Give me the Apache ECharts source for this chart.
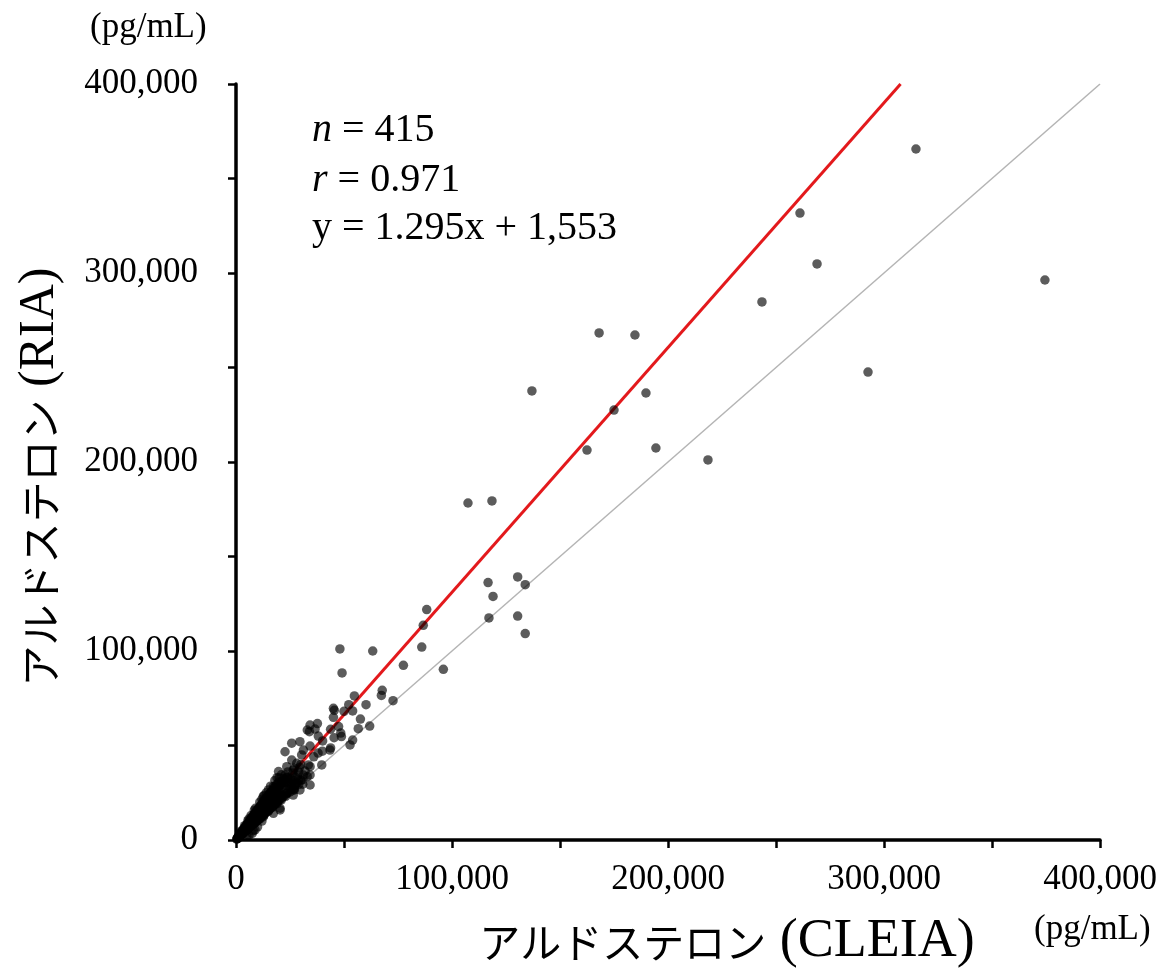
<!DOCTYPE html>
<html>
<head>
<meta charset="utf-8">
<script src="https://cdn.jsdelivr.net/npm/echarts@6/dist/echarts.min.js"></script>
<style>
html,body{margin:0;padding:0;background:#fff;}
#chart{width:1164px;height:969px;}
</style>
</head>
<body>
<div id="chart"></div>
<script>
// Axis settings (pg/mL)
const axisMin = 0;
const axisMax = 400000;
const axisStep = 100000;

// Regression statistics shown in the chart
const nCount = 415;
const rValue = 0.971;
const slope = 1.295;
const intercept = 1553;

const measurements = [
  [314800,365600],[374500,296300],[261100,331700],[269000,304800],[243500,284700],
  [292600,247600],[168100,268300],[184700,267200],[137000,237600],[189800,236500],
  [175000,227500],[162500,206300],[194400,207400],[218500,201100],[107400,178300],
  [118500,179400],[116700,136200],[130400,139200],[133900,135100],[119000,128900],
  [88300,121900],[86700,113600],[117100,117500],[130400,118500],[133900,109200],
  [86000,102100],[77500,92400],[96000,90300],[48100,101100],[63300,100000],
  [49100,88400],[54800,76200],[67700,79200],[67300,76500],[72700,73700],
  [60200,71600],[52200,71600],[45500,68600],[50000,68100],[54000,68300],
  [45100,64900],[57600,64000],[37700,61600],[33000,58200],[36600,58700],
  [34000,57300],[47500,60000],[43800,58600],[56600,58900],[61900,60300],
  [48500,56600],[38100,55000],[45400,54100],[48800,54700],[40100,52400],
  [54000,52900],[29600,52000],[34300,49700],[52800,50300],[43800,48700],
  [45100,69700],[34300,60800],[25800,51200],[43500,47600],[22700,46700],
  [31200,47600],[30400,45000],[33500,39700],[34300,38800],[39700,39700],
  [31200,34400],[34300,34400],[25800,42300],[28100,40600],[23500,38800],
  [26500,37000],[19700,36200],[22700,34400],[28900,31700],[25000,30000],
  [21100,30900],[34300,29100],[29600,26500],[26500,26500],[17300,28200],
  [15700,24700],[12600,23000],[21100,23800],[26500,23800],[30900,29500],
  [27000,26500],[20400,15900],[17300,14100],
  [300,500],[500,600],[600,1000],[800,900],[900,1400],[1000,1200],[1100,1900],[1200,1500],
  [1300,1300],[1400,2200],[1500,1800],[1600,2500],[1700,1900],[1800,2900],[1900,2200],
  [2000,2600],[2100,3400],[2200,2400],[2300,3000],[2400,3900],[2500,2800],[2600,3300],
  [2700,4300],[2800,3100],[2900,3700],[3000,4800],[3100,3300],[3200,4100],[3300,5400],
  [3400,3800],[3500,4600],[3600,5900],[3700,4100],[3800,4800],[3900,6200],[4000,4400],
  [4100,5300],[4200,6800],[4300,4700],[4400,5800],[4500,7300],[4600,5000],[4700,6100],
  [4800,7900],[4900,5300],[5000,6500],[5200,8400],[5300,5600],[5400,7000],[5600,8900],
  [5700,6200],[5800,7500],[6000,9600],[6100,6600],[6200,8000],[6400,10300],[6500,7000],
  [6600,8600],[6800,11000],[6900,7300],[7000,9100],[7200,11600],[7300,7800],[7400,9600],
  [7600,12200],[7700,8100],[7800,10100],[8000,13000],[8100,8500],[8200,10600],[8400,13500],
  [8500,9000],[8600,11200],[8800,14200],[8900,9400],[9000,11700],[9200,14900],[9300,9800],
  [9400,12200],[9600,15500],[9700,10300],[9800,12800],[10000,16000],[10100,10600],
  [10200,13300],[10400,16800],[10500,11100],[10600,13900],[10800,17300],[10900,11500],
  [11000,14400],[11300,18000],[11400,12000],[11500,15000],[11800,18900],[11900,12600],
  [12000,15600],[12300,19600],[12400,13000],[12500,16300],[12800,20400],[12900,13600],
  [13000,16900],[13300,21200],[13400,14100],[13500,17600],[13800,22000],[13900,14600],
  [14000,18200],[14400,22800],[14500,15300],[14600,19000],[15000,23600],[15100,15800],
  [15200,19800],[15600,24500],[15700,16500],[15800,20500],[16200,25400],[16300,17100],
  [16400,21300],[16800,26200],[16900,17700],[17000,22100],[17500,27300],[17600,18500],
  [17700,23000],[18200,28400],[18300,19200],[18400,23900],[18900,29500],[19000,20000],
  [19100,24800],[19700,30600],[19800,20800],[19900,25900],[20500,27000],[20600,21600],
  [21300,28000],[21400,22500],[22000,32500],[22200,29100],[22300,23400],[23000,30300],
  [23200,24400],[24000,33000],[24100,25300],[24800,27500],[25200,32400],[25600,26800],
  [26300,35500],[27000,28500],[27500,33100],[28200,30100],[29000,36000],[30000,31500],
  [2500,4800],[5500,10200],[8500,15800],[12000,21500],[16000,28500],[19000,33000],
  [6000,2500],[7500,3500],[5000,2000],[8000,5000],[10000,7000],[12000,10000],
  [23500,24700],[20400,16800],[12700,12300],[8800,5300],
  [3500,5200],[4500,6400],[5500,6800],[6500,9200],[7500,10800],[8500,12400],[9500,13600],
  [10500,14800],[11500,16400],[12500,17800],[13500,19200],[14500,20700],[15500,22000],
  [16500,23500],[17500,24800],[18500,26200],[19500,27600],[20500,29000],[21500,30400],
  [22500,31800],[23500,33200],[24500,29700],[25500,30800],[26500,31500],[27500,29500],
  [28500,34000],[29500,38500],[21000,34500],[18000,31500],[15000,26500],[14000,25000],
  [13000,23500],[11000,20000],[9000,16800],[7000,13000],[6000,11200],[4000,7600],
  [9000,9200],[11000,11000],[13000,13200],[15000,15200],[17000,17400],[19000,19300],
  [21000,21200],[23000,23100],[25000,25400],[27000,27200],[29000,29300],[31000,32000],
  [33000,33500],[32000,36500],[36000,44000],[30000,40000],[27000,38000],[24000,36000],
  [20000,33000],[38000,46000],[40000,47000]
];

// Reference lines
const identityLine = [[axisMin, axisMin], [axisMax, axisMax]];
const fitEndX = (axisMax - intercept) / slope;
const fitLine = [[axisMin, slope * axisMin + intercept], [fitEndX, axisMax]];

const serif = '"Liberation Serif", "Times New Roman", serif';
const jp = '"Noto Sans CJK JP", sans-serif';
const fmt = v => v.toLocaleString('en-US');

const chart = echarts.init(document.getElementById('chart'), null, {renderer: 'canvas'});

function axisCommon() {
  return {
    type: 'value',
    min: axisMin,
    max: axisMax,
    interval: axisStep,
    splitLine: {show: false},
    axisLine: {show: true, onZero: false, lineStyle: {color: '#000', width: 3.5}},
    axisTick: {show: true, inside: false, length: 8, lineStyle: {color: '#000', width: 2.5}},
    minorTick: {show: true, splitNumber: 2, length: 8, lineStyle: {color: '#000', width: 2.5}},
    axisLabel: {
      color: '#000', fontFamily: serif, fontSize: 35,
      formatter: fmt
    }
  };
}

const xAxis = axisCommon();
xAxis.axisLabel.margin = 22;
const yAxis = axisCommon();
yAxis.axisLabel.margin = 38;

chart.setOption({
  animation: false,
  backgroundColor: '#fff',
  grid: {left: 236, top: 84, right: 64, bottom: 129, containLabel: false},
  xAxis: xAxis,
  yAxis: yAxis,
  series: [
    {
      type: 'line', data: identityLine, symbol: 'none', silent: true, z: 1,
      lineStyle: {color: '#b4b4b4', width: 1.5}
    },
    {
      type: 'line', data: fitLine, symbol: 'none', silent: true, z: 2,
      lineStyle: {color: '#e3191c', width: 3}
    },
    {
      type: 'scatter', data: measurements, symbol: 'circle', symbolSize: 9.5, z: 3,
      itemStyle: {color: 'rgba(0,0,0,0.8)'}
    }
  ],
  graphic: [
    {type: 'text', left: 90, top: 10, z: 10,
      style: {text: '(pg/mL)', font: '35px ' + serif, fill: '#000'}},
    {type: 'text', left: 1034, top: 912, z: 10,
      style: {text: '(pg/mL)', font: '35px ' + serif, fill: '#000'}},
    {type: 'text', x: 727, y: 942, z: 10,
      style: {
        text: '{j|アルドステロン}{l| (CLEIA)}',
        align: 'center', verticalAlign: 'middle',
        rich: {
          j: {fontFamily: jp, fontSize: 41, color: '#000'},
          l: {fontFamily: serif, fontSize: 54, color: '#000'}
        }
      }},
    {type: 'text', x: 40, y: 477, rotation: Math.PI / 2, z: 10,
      style: {
        text: '{j|アルドステロン}{l| (RIA)}',
        align: 'center', verticalAlign: 'middle',
        rich: {
          j: {fontFamily: jp, fontSize: 41, color: '#000'},
          l: {fontFamily: serif, fontSize: 50, color: '#000'}
        }
      }},
    {type: 'text', x: 312, y: 130, z: 10,
      style: {
        text: '{i|n}{t| = ' + nCount + '}', verticalAlign: 'middle',
        rich: {
          i: {fontFamily: serif, fontSize: 40, fontStyle: 'italic', color: '#000'},
          t: {fontFamily: serif, fontSize: 40, color: '#000'}
        }
      }},
    {type: 'text', x: 312, y: 180, z: 10,
      style: {
        text: '{i|r}{t| = ' + rValue.toFixed(3) + '}', verticalAlign: 'middle',
        rich: {
          i: {fontFamily: serif, fontSize: 40, fontStyle: 'italic', color: '#000'},
          t: {fontFamily: serif, fontSize: 40, color: '#000'}
        }
      }},
    {type: 'text', x: 312, y: 228, z: 10,
      style: {
        text: 'y = ' + slope.toFixed(3) + 'x + ' + fmt(intercept),
        verticalAlign: 'middle',
        font: '40px ' + serif, fill: '#000'
      }}
  ]
});
</script>
</body>
</html>
